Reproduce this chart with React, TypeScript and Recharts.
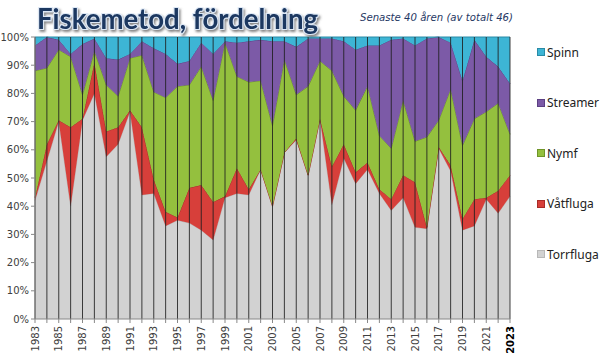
import React from "react";
import { AreaChart, Area, XAxis, YAxis, ReferenceLine } from "recharts";

const years = [
  1983, 1984, 1985, 1986, 1987, 1988, 1989, 1990, 1991, 1992, 1993, 1994, 1995, 1996,
  1997, 1998, 1999, 2000, 2001, 2002, 2003, 2004, 2005, 2006, 2007, 2008, 2009, 2010,
  2011, 2012, 2013, 2014, 2015, 2016, 2017, 2018, 2019, 2020, 2021, 2022, 2023,
];
const torrfluga = [
  42, 56, 70, 40, 70.5, 80, 57.5, 62, 73.5, 44, 44.5, 33, 35, 34, 31.5, 28, 43, 44.5, 44, 53,
  40, 59, 63.5, 51, 71, 40.5, 57, 48, 53, 44.5, 38.5, 43, 32.5, 32, 60.5, 52.5, 31.5, 33, 42.5,
  37.5, 43.5,
];
const vatfluga = [
  1, 6, 0.5, 28, 0.5, 11, 9, 6, 0.5, 24, 5, 5, 1, 12.5, 16, 13.5, 0.5, 9, 2, 0, 0, 0, 0.5, 0, 0,
  13.5, 5, 4, 2.5, 1.5, 4, 8, 16, 0.5, 0.5, 2, 4, 9.5, 0.5, 8, 7.5,
];
const nymf = [
  45, 27, 25, 25, 8.5, 4, 16.5, 11, 18.5, 25.5, 31, 40.5, 46.5, 36.5, 42, 36, 54.5, 32.5, 38,
  31.5, 28.5, 33, 15.5, 31.5, 20.5, 34, 17, 22, 27, 19, 18, 26.5, 14.5, 32, 9.5, 27, 26, 28.5,
  30.5, 31, 14.5,
];
const streamer = [
  9, 11, 3.5, 1, 18, 4.5, 9.5, 13, 1.5, 5, 15.5, 15.5, 8, 8.5, 8.5, 16.5, 0.5, 12, 14.5, 14.5,
  30, 6.5, 17, 17, 8, 11.5, 19.5, 21.5, 14.5, 32, 38.5, 22, 34, 35, 29.5, 16.5, 23, 28, 19.5, 13,
  18,
];
const spinn = [
  3, 0, 1, 6, 2.5, 0.5, 7.5, 8, 6, 1.5, 4, 6, 9.5, 8.5, 2, 6, 1.5, 2, 1.5, 1, 1.5, 1.5, 3.5, 0.5,
  0.5, 0.5, 1.5, 4.5, 3, 3, 1, 0.5, 3, 0.5, 0, 2, 15.5, 1, 7, 10.5, 16.5,
];
const yTicks = [0, 0.1, 0.2, 0.3, 0.4, 0.5, 0.6, 0.7, 0.8, 0.9, 1];

const seriesNames = ["Torrfluga", "Våtfluga", "Nymf", "Streamer", "Spinn"];
const seriesFill = ["#D2D2D2", "#D73F3A", "#94C03E", "#7C5AA7", "#3DB5D5"];
const seriesStroke = ["#B8B8B8", "#A82B27", "#6F9529", "#5C4083", "#2A8BA6"];
const seriesValues = [torrfluga, vatfluga, nymf, streamer, spinn];

const data = years.map((y, i) => {
  const row: Record<string, number> = { year: y };
  seriesNames.forEach((n, k) => {
    row[n] = seriesValues[k][i];
  });
  return row;
});

const XTick = (props: any) => {
  const { x, y, payload, index } = props;
  if (index % 2 !== 0) return null;
  const bold = payload.value === 2023;
  return (
    <text
      transform={`translate(${x},${y + 1}) rotate(-90)`}
      x={0}
      y={0}
      dy="0.36em"
      textAnchor="end"
      fontFamily="DejaVu Sans"
      fontSize={10}
      fontWeight={bold ? "bold" : "normal"}
      fill={bold ? "#000" : "#404040"}
    >
      {payload.value}
    </text>
  );
};

const LegendBox = () => {
  const order = [4, 3, 2, 1, 0];
  return (
    <div style={{ position: "absolute", left: 537, top: 44, width: 70, height: 260 }}>
      {order.map((k, j) => (
        <div
          key={seriesNames[k]}
          style={{
            position: "absolute",
            left: 0,
            top: j * 50.6,
            height: 16,
            display: "flex",
            alignItems: "center",
            fontFamily: "Noto Sans",
            fontSize: 12,
            color: "#222",
            whiteSpace: "nowrap",
          }}
        >
          <span
            style={{
              display: "inline-block",
              width: 6,
              height: 6,
              background: seriesFill[k],
              border: `1px solid ${seriesStroke[k]}`,
              marginRight: 2,
            }}
          />
          {seriesNames[k]}
        </div>
      ))}
    </div>
  );
};

export default function App() {
  return (
    <div style={{ position: "absolute", left: 0, top: 0, width: 600, height: 358, background: "#fff" }}>
      <AreaChart
        width={600}
        height={358}
        data={data}
        stackOffset="expand"
        margin={{ top: 37, right: 90, left: 0, bottom: 0 }}
      >
        <XAxis
          dataKey="year"
          interval={0}
          tick={<XTick />}
          tickSize={4}
          height={39}
          axisLine={{ stroke: "#888" }}
          tickLine={{ stroke: "#888" }}
        />
        <YAxis
          width={35}
          ticks={yTicks}
          domain={[0, 1]}
          tickFormatter={(v: number) => `${Math.round(v * 100)}%`}
          tickSize={4}
          tick={{ fontFamily: "DejaVu Sans", fontSize: 10, fill: "#404040" }}
          axisLine={{ stroke: "#888" }}
          tickLine={{ stroke: "#888" }}
          interval={0}
        />
        {seriesNames.map((n, k) => (
          <Area
            key={n}
            type="linear"
            dataKey={n}
            stackId="a"
            fill={seriesFill[k]}
            fillOpacity={1}
            stroke={seriesStroke[k]}
            strokeWidth={1}
            isAnimationActive={false}
          />
        ))}
        {years.map((y) => (
          <ReferenceLine key={y} x={y} stroke="#1E1E1E" strokeWidth={1} strokeOpacity={0.85} />
        ))}
      </AreaChart>
      <svg width={600} height={40} style={{ position: "absolute", left: 0, top: 0 }}>
        <defs>
          <filter id="tshadow" x="-10%" y="-30%" width="120%" height="160%">
            <feDropShadow dx="1.5" dy="2" stdDeviation="1.2" floodColor="#555" floodOpacity="0.7" />
          </filter>
        </defs>
        <text
          x={37}
          y={29}
          fontFamily="Lato"
          fontWeight="bold"
          fontSize={28}
          fill="#1C3760"
          stroke="#DDE8F5"
          strokeWidth={2.2}
          paintOrder="stroke"
          textLength={281}
          lengthAdjust="spacingAndGlyphs"
          filter="url(#tshadow)"
        >
          Fiskemetod, fördelning
        </text>
        <text
          x={360}
          y={21}
          fontFamily="DejaVu Sans"
          fontStyle="italic"
          fontSize={11}
          fill="#1F3864"
          textLength={153}
          lengthAdjust="spacingAndGlyphs"
        >
          Senaste 40 åren (av totalt 46)
        </text>
      </svg>
      <LegendBox />
    </div>
  );
}
